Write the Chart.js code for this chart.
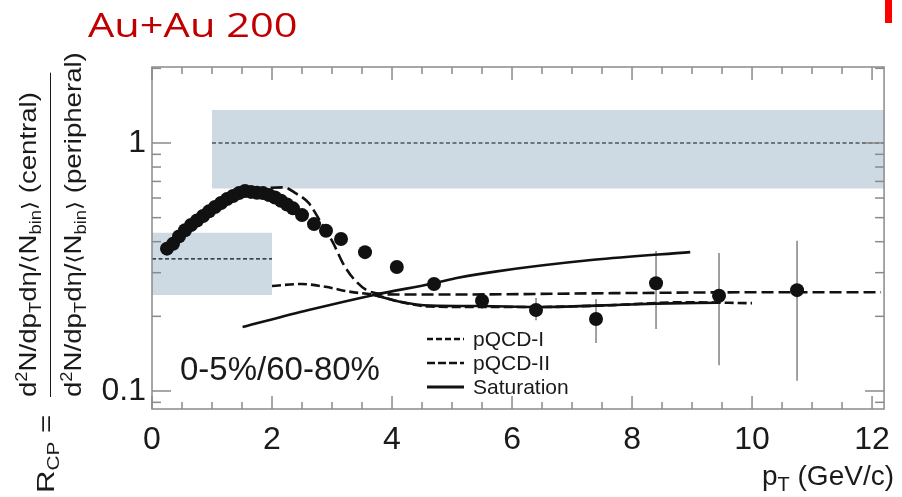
<!DOCTYPE html>
<html>
<head>
<meta charset="utf-8">
<title>R_CP Au+Au 200</title>
<script src="https://cdn.jsdelivr.net/npm/chart.js@4.4.0/dist/chart.umd.min.js"></script>
<style>
  html, body { margin: 0; padding: 0; background: #fff; }
  #wrap { position: relative; width: 902px; height: 497px; overflow: hidden;
          font-family: "Liberation Sans", Arial, sans-serif; color: #1a1a1a; }
  #rcpChart { position: absolute; left: 0; top: 0; }
  .txt { position: absolute; white-space: nowrap; line-height: 1; }
  #title { left: 88px; top: 9px; font-family: "Open Sans", sans-serif; font-size: 32px; color: #c00000;
           transform-origin: 0 0; transform: scaleX(1.3); }
  #redMark { position: absolute; left: 885px; top: 0; width: 7px; height: 23px; background: #ff0000; }
  #centrality { left: 180px; top: 352px; font-size: 33px; }
  #xTitle { right: 8px; top: 462px; font-size: 28px; }
  #xTitle sub { font-size: 20px; vertical-align: -6px; }

  /* rotated y title: pivot is a zero-size box, text runs bottom -> top */
  .rot { position: absolute; width: 0; height: 0; transform: rotate(-90deg); }
  .rot > div { position: absolute; left: 0; top: 0; white-space: nowrap; transform-origin: 0 0; }
  .rot sub, .rot sup { position: relative; vertical-align: baseline; font-size: 16px; }
  .rot sub { top: 5px; }
  .rot sup { top: -9px; }
  #yFrac { left: 47px; top: 397px; }
  #yFrac .frac { transform: translateY(-31px) scaleX(1.15); font-size: 24px; }
  #yFrac .num { line-height: 24px; padding-bottom: 7px; border-bottom: 1.5px solid #1a1a1a; width: 282px; }
  #yFrac .den { line-height: 24px; padding-top: 10px; }
  #yRcp { left: 47px; top: 493px; }
  #yRcp > div { transform: translateY(-13px) scaleX(1.3); font-size: 24px; line-height: 24px; }
  .ang { font-family: "DejaVu Sans", sans-serif; font-size: 20px; }

  .leg { position: absolute; left: 427px; height: 24px; display: flex; align-items: center; font-size: 21px; }
  .leg svg { margin-right: 9px; }
</style>
</head>
<body>
<div id="wrap">
  <canvas id="rcpChart" width="902" height="497"></canvas>

  <div class="txt" id="title">Au+Au 200</div>
  <div id="redMark"></div>
  <div class="txt" id="centrality">0-5%/60-80%</div>
  <div class="txt" id="xTitle">p<sub>T</sub> (GeV/c)</div>

  <div class="rot" id="yFrac">
    <div class="frac">
      <div class="num">d<sup>2</sup>N/dp<sub>T</sub>dη/<span class="ang">⟨</span>N<sub>bin</sub><span class="ang">⟩</span> (central)</div>
      <div class="den">d<sup>2</sup>N/dp<sub>T</sub>dη/<span class="ang">⟨</span>N<sub>bin</sub><span class="ang">⟩</span> (peripheral)</div>
    </div>
  </div>
  <div class="rot" id="yRcp"><div>R<sub>CP</sub> =</div></div>

  <div class="leg" style="top:327px">
    <svg width="37" height="6"><line x1="0" y1="3" x2="37" y2="3" stroke="#111" stroke-width="2.5" stroke-dasharray="6 3"/></svg>pQCD-I
  </div>
  <div class="leg" style="top:351px">
    <svg width="37" height="6"><line x1="0" y1="3" x2="37" y2="3" stroke="#111" stroke-width="2.5" stroke-dasharray="8 3"/></svg>pQCD-II
  </div>
  <div class="leg" style="top:375px">
    <svg width="37" height="6"><line x1="0" y1="3" x2="37" y2="3" stroke="#111" stroke-width="2.8"/></svg>Saturation
  </div>
</div>

<script>
/* ================================================
   DATA
================================================ */
// measured R_CP points
const ptData  = [0.25,0.35,0.45,0.55,0.65,0.75,0.85,0.95,1.05,1.15,1.25,1.35,1.45,1.55,1.65,1.75,1.85,1.95,
                 2.05,2.15,2.25,2.35,2.5,2.7,2.9,3.15,3.55,4.08,4.7,5.5,6.4,7.4,8.4,9.45,10.75];
const rcpData = [0.375,0.392,0.42,0.445,0.467,0.487,0.508,0.53,0.552,0.573,0.594,0.611,0.628,0.64,0.635,0.63,0.628,0.617,
                 0.603,0.585,0.565,0.545,0.512,0.471,0.443,0.41,0.363,0.316,0.27,0.231,0.212,0.195,0.272,0.242,0.255];

// vertical error bars on the high-pT points
const errPt   = [5.5, 6.4, 7.4, 8.4, 9.45, 10.75];
const errLow  = [0.214, 0.193, 0.156, 0.178, 0.127, 0.110];
const errHigh = [0.246, 0.237, 0.235, 0.367, 0.360, 0.403];

// model curves
const pqcd1Pt  = [2.0, 2.49, 2.89, 3.31, 3.7, 4.13, 4.62, 5.51, 6.38, 7.69, 8.84, 10.0];
const pqcd1Rcp = [0.265, 0.27, 0.263, 0.251, 0.244, 0.229, 0.219, 0.218, 0.218, 0.222, 0.228, 0.226];

const pqcd2Pt  = [1.7, 1.95, 2.2, 2.39, 2.61, 2.82, 3.02, 3.18, 3.38, 3.64, 4.08, 5.07, 7.69, 10.0, 12.15];
const pqcd2Rcp = [0.64, 0.659, 0.662, 0.628, 0.573, 0.476, 0.395, 0.328, 0.28, 0.251, 0.245, 0.245, 0.248, 0.25, 0.25];

const satPt    = [1.51, 2.61, 3.7, 4.7, 5.1, 5.72, 7.36, 8.97];
const satRcp   = [0.181, 0.212, 0.244, 0.272, 0.286, 0.303, 0.338, 0.363];

const satLowPt  = [3.7, 4.13, 4.64, 5.5, 6.4, 7.4, 8.4, 9.43];
const satLowRcp = [0.244, 0.229, 0.221, 0.220, 0.218, 0.221, 0.225, 0.227];

// systematic bands (normalisation)
const bandNormPt   = [1.0, 12.2];
const bandNormLow  = 0.655;
const bandNormHigh = 1.36;
const bandNormMid  = 1.0;
const bandPeriPt   = [0.0, 2.0];
const bandPeriLow  = 0.244;
const bandPeriHigh = 0.435;
const bandPeriMid  = 0.341;

// axis ticks
const xLabelTicks = [0, 2, 4, 6, 8, 10, 12];
const xMinorTicks = [0.5,1,1.5,2.5,3,3.5,4.5,5,5.5,6.5,7,7.5,8.5,9,9.5,10.5,11,11.5];
const yLabelTicks = [0.1, 1];
const yMinorTicks = [0.09, 0.2, 0.3, 0.4, 0.5, 0.6, 0.7, 0.8, 0.9, 2];

/* ================================================
   HELPERS
================================================ */
const FONT = '"Liberation Sans", Arial, sans-serif';
const BAND = 'rgb(205,218,227)';
const INK  = '#111';

function xy(xs, ys) {
  return xs.map((v, i) => ({ x: v, y: Array.isArray(ys) ? ys[i] : ys }));
}

function curve(label, xs, ys, dash, width, order) {
  return {
    label, data: xy(xs, ys), order,
    borderColor: INK, borderWidth: width, borderDash: dash,
    pointRadius: 0, fill: false, cubicInterpolationMode: 'monotone',
  };
}

function band(xs, lo, hi, mid) {
  return [
    { label: 'bandLo', data: xy(xs, lo), order: 20, borderWidth: 0, pointRadius: 0, fill: false },
    { label: 'bandHi', data: xy(xs, hi), order: 20, borderWidth: 0, pointRadius: 0,
      fill: '-1', backgroundColor: BAND },
    { label: 'bandMid', data: xy(xs, mid), order: 15, borderColor: INK, borderWidth: 1.2,
      borderDash: [4, 2.5], pointRadius: 0, fill: false },
  ];
}

/* ================================================
   PLUGINS — frame, inner ticks, error bars
================================================ */
const errorBars = {
  id: 'errorBars',
  beforeDatasetsDraw(chart) {
    const { ctx, scales: { x, y } } = chart;
    ctx.save();
    ctx.strokeStyle = '#8a8a8a';
    ctx.lineWidth = 1.6;
    errPt.forEach((p, i) => {
      const px = x.getPixelForValue(p);
      ctx.beginPath();
      ctx.moveTo(px, y.getPixelForValue(errLow[i]));
      ctx.lineTo(px, y.getPixelForValue(errHigh[i]));
      ctx.stroke();
    });
    ctx.restore();
  },
};

const frameTicks = {
  id: 'frameTicks',
  afterDraw(chart) {
    const { ctx, chartArea: a, scales: { x, y } } = chart;
    const seg = (x1, y1, x2, y2) => { ctx.beginPath(); ctx.moveTo(x1, y1); ctx.lineTo(x2, y2); ctx.stroke(); };
    ctx.save();
    ctx.strokeStyle = '#8a8a8a';
    ctx.lineWidth = 1.5;
    ctx.strokeRect(a.left, a.top, a.right - a.left, a.bottom - a.top);

    const xTick = (v, len) => {
      const px = x.getPixelForValue(v);
      seg(px, a.bottom, px, a.bottom - len);
      seg(px, a.top, px, a.top + len);
    };
    xLabelTicks.forEach(v => xTick(v, 13));
    xMinorTicks.forEach(v => xTick(v, 7));

    const yTick = (v, len) => {
      const py = y.getPixelForValue(v);
      seg(a.left, py, a.left + len, py);
      seg(a.right, py, a.right - len, py);
    };
    yLabelTicks.forEach(v => yTick(v, 19));
    yMinorTicks.forEach(v => yTick(v, 9));
    ctx.restore();
  },
};

/* ================================================
   CHART
================================================ */
function buildRcpChart() {
  const ctx = document.getElementById('rcpChart');
  if (!ctx) return;

  new Chart(ctx, {
    type: 'line',
    data: {
      datasets: [
        {
          label: 'Data', data: xy(ptData, rcpData), order: 1, showLine: false,
          pointRadius: 7, pointBackgroundColor: INK, pointBorderColor: INK, pointBorderWidth: 0,
        },
        curve('pQCD-I', pqcd1Pt, pqcd1Rcp, [9, 4], 2.6, 5),
        curve('pQCD-II', pqcd2Pt, pqcd2Rcp, [12, 5], 2.6, 5),
        curve('Saturation', satPt, satRcp, [], 2.6, 5),
        curve('Saturation (low)', satLowPt, satLowRcp, [], 2.6, 6),
        ...band(bandNormPt, bandNormLow, bandNormHigh, bandNormMid),
        ...band(bandPeriPt, bandPeriLow, bandPeriHigh, bandPeriMid),
      ],
    },
    options: {
      responsive: false,
      animation: false,
      layout: { padding: { left: 0, right: 9, top: 67, bottom: 0 } },
      plugins: { legend: { display: false }, tooltip: { enabled: false } },
      scales: {
        x: {
          type: 'linear', min: 0, max: 12.2,
          afterFit(s) { s.height = 88; },
          grid: { display: false, drawTicks: false },
          border: { display: false },
          ticks: {
            stepSize: 2, includeBounds: false, autoSkip: false, maxRotation: 0,
            padding: 12, color: '#1a1a1a', font: { family: FONT, size: 32 },
          },
        },
        y: {
          type: 'logarithmic', min: 0.0846, max: 2.025,
          afterFit(s) { s.width = 152; },
          afterBuildTicks(s) { s.ticks = yLabelTicks.map(v => ({ value: v })); },
          grid: { display: false, drawTicks: false },
          border: { display: false },
          ticks: {
            autoSkip: false, padding: 6, color: '#1a1a1a',
            font: { family: FONT, size: 32 },
            callback: v => String(v),
          },
        },
      },
    },
    plugins: [errorBars, frameTicks],
  });
}

document.addEventListener('DOMContentLoaded', buildRcpChart);
</script>
</body>
</html>
